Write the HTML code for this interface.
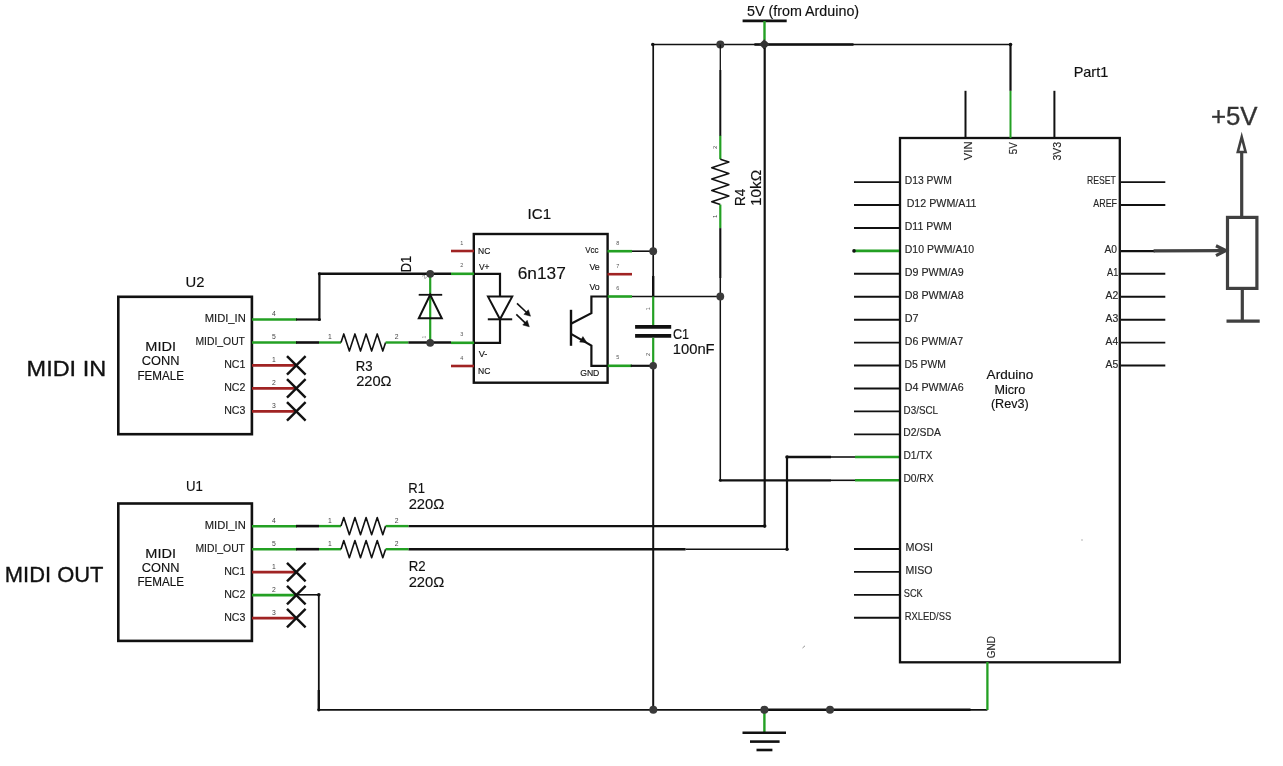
<!DOCTYPE html>
<html><head><meta charset="utf-8"><style>
html,body{margin:0;padding:0;background:#fff;}
body{width:1283px;height:766px;overflow:hidden;}
svg{display:block;will-change:transform;}
text{font-family:"Liberation Sans",sans-serif;}
</style></head><body>
<svg width="1283" height="766" viewBox="0 0 1283 766">
<rect width="1283" height="766" fill="#fff"/>
<rect x="118.3" y="296.8" width="133.6" height="137.39999999999998" fill="none" stroke="#111" stroke-width="2.6"/>
<text x="185.52" y="286.5" font-size="14" text-anchor="start" fill="#111" stroke="#111" stroke-width="0.15" textLength="18.90" lengthAdjust="spacingAndGlyphs">U2</text>
<text x="145.34" y="350.8" font-size="13" text-anchor="start" fill="#111" stroke="#111" stroke-width="0.15" textLength="30.74" lengthAdjust="spacingAndGlyphs">MIDI</text>
<text x="141.86" y="365.2" font-size="13" text-anchor="start" fill="#111" stroke="#111" stroke-width="0.15" textLength="37.72" lengthAdjust="spacingAndGlyphs">CONN</text>
<text x="137.47" y="379.6" font-size="13" text-anchor="start" fill="#111" stroke="#111" stroke-width="0.15" textLength="46.61" lengthAdjust="spacingAndGlyphs">FEMALE</text>
<line x1="252" y1="319.5" x2="297" y2="319.5" stroke="#23a023" stroke-width="2.6" stroke-linecap="butt"/>
<text x="204.7" y="322.1" font-size="10.8" text-anchor="start" fill="#1a1a1a" stroke="#1a1a1a" stroke-width="0.15" textLength="41.07" lengthAdjust="spacingAndGlyphs">MIDI_IN</text>
<text x="274" y="315.9" font-size="6.8" text-anchor="middle" fill="#444">4</text>
<line x1="252" y1="342.5" x2="297" y2="342.5" stroke="#23a023" stroke-width="2.6" stroke-linecap="butt"/>
<text x="195.42" y="345.1" font-size="10.8" text-anchor="start" fill="#1a1a1a" stroke="#1a1a1a" stroke-width="0.15" textLength="49.56" lengthAdjust="spacingAndGlyphs">MIDI_OUT</text>
<text x="274" y="338.9" font-size="6.8" text-anchor="middle" fill="#444">5</text>
<line x1="252" y1="365.4" x2="297" y2="365.4" stroke="#a02323" stroke-width="2.6" stroke-linecap="butt"/>
<text x="224.15" y="368.0" font-size="10.8" text-anchor="start" fill="#1a1a1a" stroke="#1a1a1a" stroke-width="0.15" textLength="21.18" lengthAdjust="spacingAndGlyphs">NC1</text>
<text x="274" y="361.79999999999995" font-size="6.8" text-anchor="middle" fill="#444">1</text>
<line x1="252" y1="388.4" x2="297" y2="388.4" stroke="#a02323" stroke-width="2.6" stroke-linecap="butt"/>
<text x="224.15" y="391.0" font-size="10.8" text-anchor="start" fill="#1a1a1a" stroke="#1a1a1a" stroke-width="0.15" textLength="21.18" lengthAdjust="spacingAndGlyphs">NC2</text>
<text x="274" y="384.79999999999995" font-size="6.8" text-anchor="middle" fill="#444">2</text>
<line x1="252" y1="411.4" x2="297" y2="411.4" stroke="#a02323" stroke-width="2.6" stroke-linecap="butt"/>
<text x="224.15" y="414.0" font-size="10.8" text-anchor="start" fill="#1a1a1a" stroke="#1a1a1a" stroke-width="0.15" textLength="21.18" lengthAdjust="spacingAndGlyphs">NC3</text>
<text x="274" y="407.79999999999995" font-size="6.8" text-anchor="middle" fill="#444">3</text>
<line x1="287.0" y1="356.09999999999997" x2="305.6" y2="374.7" stroke="#111" stroke-width="2.4" stroke-linecap="butt"/>
<line x1="287.0" y1="374.7" x2="305.6" y2="356.09999999999997" stroke="#111" stroke-width="2.4" stroke-linecap="butt"/>
<line x1="287.0" y1="379.09999999999997" x2="305.6" y2="397.7" stroke="#111" stroke-width="2.4" stroke-linecap="butt"/>
<line x1="287.0" y1="397.7" x2="305.6" y2="379.09999999999997" stroke="#111" stroke-width="2.4" stroke-linecap="butt"/>
<line x1="287.0" y1="402.09999999999997" x2="305.6" y2="420.7" stroke="#111" stroke-width="2.4" stroke-linecap="butt"/>
<line x1="287.0" y1="420.7" x2="305.6" y2="402.09999999999997" stroke="#111" stroke-width="2.4" stroke-linecap="butt"/>
<rect x="118.3" y="503.5" width="133.6" height="137.39999999999998" fill="none" stroke="#111" stroke-width="2.6"/>
<text x="185.94" y="491.2" font-size="14" text-anchor="start" fill="#111" stroke="#111" stroke-width="0.15" textLength="16.90" lengthAdjust="spacingAndGlyphs">U1</text>
<text x="145.34" y="557.5" font-size="13" text-anchor="start" fill="#111" stroke="#111" stroke-width="0.15" textLength="30.74" lengthAdjust="spacingAndGlyphs">MIDI</text>
<text x="141.86" y="571.9" font-size="13" text-anchor="start" fill="#111" stroke="#111" stroke-width="0.15" textLength="37.72" lengthAdjust="spacingAndGlyphs">CONN</text>
<text x="137.47" y="586.3" font-size="13" text-anchor="start" fill="#111" stroke="#111" stroke-width="0.15" textLength="46.61" lengthAdjust="spacingAndGlyphs">FEMALE</text>
<line x1="252" y1="526.2" x2="297" y2="526.2" stroke="#23a023" stroke-width="2.6" stroke-linecap="butt"/>
<text x="204.7" y="528.8000000000001" font-size="10.8" text-anchor="start" fill="#1a1a1a" stroke="#1a1a1a" stroke-width="0.15" textLength="41.07" lengthAdjust="spacingAndGlyphs">MIDI_IN</text>
<text x="274" y="522.6" font-size="6.8" text-anchor="middle" fill="#444">4</text>
<line x1="252" y1="549.2" x2="297" y2="549.2" stroke="#23a023" stroke-width="2.6" stroke-linecap="butt"/>
<text x="195.42" y="551.8000000000001" font-size="10.8" text-anchor="start" fill="#1a1a1a" stroke="#1a1a1a" stroke-width="0.15" textLength="49.56" lengthAdjust="spacingAndGlyphs">MIDI_OUT</text>
<text x="274" y="545.6" font-size="6.8" text-anchor="middle" fill="#444">5</text>
<line x1="252" y1="572.0999999999999" x2="297" y2="572.0999999999999" stroke="#a02323" stroke-width="2.6" stroke-linecap="butt"/>
<text x="224.15" y="574.6999999999999" font-size="10.8" text-anchor="start" fill="#1a1a1a" stroke="#1a1a1a" stroke-width="0.15" textLength="21.18" lengthAdjust="spacingAndGlyphs">NC1</text>
<text x="274" y="568.4999999999999" font-size="6.8" text-anchor="middle" fill="#444">1</text>
<line x1="252" y1="595.0999999999999" x2="297" y2="595.0999999999999" stroke="#23a023" stroke-width="2.6" stroke-linecap="butt"/>
<text x="224.15" y="597.6999999999999" font-size="10.8" text-anchor="start" fill="#1a1a1a" stroke="#1a1a1a" stroke-width="0.15" textLength="21.18" lengthAdjust="spacingAndGlyphs">NC2</text>
<text x="274" y="591.4999999999999" font-size="6.8" text-anchor="middle" fill="#444">2</text>
<line x1="252" y1="618.0999999999999" x2="297" y2="618.0999999999999" stroke="#a02323" stroke-width="2.6" stroke-linecap="butt"/>
<text x="224.15" y="620.6999999999999" font-size="10.8" text-anchor="start" fill="#1a1a1a" stroke="#1a1a1a" stroke-width="0.15" textLength="21.18" lengthAdjust="spacingAndGlyphs">NC3</text>
<text x="274" y="614.4999999999999" font-size="6.8" text-anchor="middle" fill="#444">3</text>
<line x1="287.0" y1="562.8" x2="305.6" y2="581.3999999999999" stroke="#111" stroke-width="2.4" stroke-linecap="butt"/>
<line x1="287.0" y1="581.3999999999999" x2="305.6" y2="562.8" stroke="#111" stroke-width="2.4" stroke-linecap="butt"/>
<line x1="287.0" y1="585.8" x2="305.6" y2="604.3999999999999" stroke="#111" stroke-width="2.4" stroke-linecap="butt"/>
<line x1="287.0" y1="604.3999999999999" x2="305.6" y2="585.8" stroke="#111" stroke-width="2.4" stroke-linecap="butt"/>
<line x1="287.0" y1="608.8" x2="305.6" y2="627.3999999999999" stroke="#111" stroke-width="2.4" stroke-linecap="butt"/>
<line x1="287.0" y1="627.3999999999999" x2="305.6" y2="608.8" stroke="#111" stroke-width="2.4" stroke-linecap="butt"/>
<text x="26.62" y="375.8" font-size="21.8" text-anchor="start" fill="#111" stroke="#111" stroke-width="0.35" textLength="79.52" lengthAdjust="spacingAndGlyphs">MIDI IN</text>
<text x="4.85" y="582.1" font-size="22" text-anchor="start" fill="#111" stroke="#111" stroke-width="0.35" textLength="98.58" lengthAdjust="spacingAndGlyphs">MIDI OUT</text>
<line x1="296" y1="319.5" x2="319.4" y2="319.5" stroke="#111" stroke-width="2.2" stroke-linecap="butt"/>
<line x1="319.4" y1="320.5" x2="319.4" y2="273.8" stroke="#111" stroke-width="2.2" stroke-linecap="butt"/>
<line x1="318.4" y1="273.8" x2="451" y2="273.8" stroke="#111" stroke-width="2.6" stroke-linecap="butt"/>
<circle cx="319.4" cy="319.5" r="1.6" fill="#111"/>
<circle cx="319.4" cy="273.8" r="1.6" fill="#111"/>
<line x1="296" y1="342.5" x2="319" y2="342.5" stroke="#111" stroke-width="2.6" stroke-linecap="butt"/>
<line x1="319" y1="342.5" x2="341" y2="342.5" stroke="#23a023" stroke-width="2.4" stroke-linecap="butt"/>
<polyline points="341,342.5 343.79,333.9 349.36,351.1 354.94,333.9 360.51,351.1 366.09,333.9 371.66,351.1 377.24,333.9 382.81,351.1 385.6,342.5" fill="none" stroke="#111" stroke-width="1.6" stroke-linejoin="round" stroke-linecap="butt"/>
<text x="330" y="338.9" font-size="6.8" text-anchor="middle" fill="#444">1</text>
<text x="396.6" y="338.9" font-size="6.8" text-anchor="middle" fill="#444">2</text>
<line x1="385.6" y1="342.5" x2="408.4" y2="342.5" stroke="#23a023" stroke-width="2.4" stroke-linecap="butt"/>
<line x1="408.4" y1="342.5" x2="451" y2="342.5" stroke="#111" stroke-width="2.6" stroke-linecap="butt"/>
<text x="355.85" y="370.6" font-size="14.2" text-anchor="start" fill="#111" stroke="#111" stroke-width="0.15" textLength="16.78" lengthAdjust="spacingAndGlyphs">R3</text>
<text x="356.17" y="386.2" font-size="14.2" text-anchor="start" fill="#111" stroke="#111" stroke-width="0.15" textLength="35.36" lengthAdjust="spacingAndGlyphs">220Ω</text>
<line x1="430.2" y1="273.8" x2="430.2" y2="343" stroke="#23a023" stroke-width="2.2" stroke-linecap="butt"/>
<line x1="418.7" y1="294.8" x2="442.2" y2="294.8" stroke="#111" stroke-width="1.8" stroke-linecap="butt"/>
<polygon points="430.2,294.8 418.8,318.3 441.8,318.3" fill="none" stroke="#111" stroke-width="2"/>
<circle cx="430.2" cy="273.8" r="3.9" fill="#3a3a3a"/>
<circle cx="430.2" cy="342.8" r="3.9" fill="#3a3a3a"/>
<text x="411.5" y="272.24" font-size="14" text-anchor="start" fill="#111" stroke="#111" stroke-width="0.15" textLength="16.56" lengthAdjust="spacingAndGlyphs" transform="rotate(-90 411.5 272.24)">D1</text>
<text x="426" y="278" font-size="6" text-anchor="middle" fill="#666" transform="rotate(-45 426 278)">2</text>
<text x="426" y="337" font-size="5" text-anchor="middle" fill="#999" transform="rotate(-90 426 337)">1</text>
<rect x="473.8" y="234" width="133.8" height="148.7" fill="none" stroke="#111" stroke-width="2.4"/>
<text x="527.54" y="219" font-size="13.8" text-anchor="start" fill="#111" stroke="#111" stroke-width="0.15" textLength="23.56" lengthAdjust="spacingAndGlyphs">IC1</text>
<text x="517.73" y="278.9" font-size="17.4" text-anchor="start" fill="#111" stroke="#111" stroke-width="0.15" textLength="48.14" lengthAdjust="spacingAndGlyphs">6n137</text>
<line x1="451" y1="251" x2="474" y2="251" stroke="#a02323" stroke-width="2.6" stroke-linecap="butt"/>
<text x="461.8" y="244.5" font-size="5.5" text-anchor="middle" fill="#555">1</text>
<line x1="451" y1="273.8" x2="474" y2="273.8" stroke="#23a023" stroke-width="2.6" stroke-linecap="butt"/>
<text x="461.8" y="267.3" font-size="5.5" text-anchor="middle" fill="#555">2</text>
<line x1="451" y1="342.8" x2="474" y2="342.8" stroke="#23a023" stroke-width="2.6" stroke-linecap="butt"/>
<text x="461.8" y="336.3" font-size="5.5" text-anchor="middle" fill="#555">3</text>
<line x1="451" y1="366" x2="474" y2="366" stroke="#a02323" stroke-width="2.6" stroke-linecap="butt"/>
<text x="461.8" y="359.5" font-size="5.5" text-anchor="middle" fill="#555">4</text>
<text x="478.12" y="253.7" font-size="9.8" text-anchor="start" fill="#111" stroke="#111" stroke-width="0.15" textLength="12.26" lengthAdjust="spacingAndGlyphs">NC</text>
<text x="478.92" y="270" font-size="9.8" text-anchor="start" fill="#111" stroke="#111" stroke-width="0.15" textLength="10.63" lengthAdjust="spacingAndGlyphs">V+</text>
<text x="478.71" y="356.6" font-size="9.8" text-anchor="start" fill="#111" stroke="#111" stroke-width="0.15" textLength="8.71" lengthAdjust="spacingAndGlyphs">V-</text>
<text x="478.12" y="373.8" font-size="9.8" text-anchor="start" fill="#111" stroke="#111" stroke-width="0.15" textLength="12.36" lengthAdjust="spacingAndGlyphs">NC</text>
<line x1="607.5" y1="251.2" x2="632" y2="251.2" stroke="#23a023" stroke-width="2.6" stroke-linecap="butt"/>
<text x="617.8" y="244.7" font-size="5.5" text-anchor="middle" fill="#555">8</text>
<line x1="607.5" y1="274.2" x2="632" y2="274.2" stroke="#a02323" stroke-width="2.6" stroke-linecap="butt"/>
<text x="617.8" y="267.7" font-size="5.5" text-anchor="middle" fill="#555">7</text>
<line x1="607.5" y1="296.5" x2="632" y2="296.5" stroke="#23a023" stroke-width="2.6" stroke-linecap="butt"/>
<text x="617.8" y="290.0" font-size="5.5" text-anchor="middle" fill="#555">6</text>
<line x1="607.5" y1="365.8" x2="632" y2="365.8" stroke="#23a023" stroke-width="2.6" stroke-linecap="butt"/>
<text x="617.8" y="359.3" font-size="5.5" text-anchor="middle" fill="#555">5</text>
<text x="585.17" y="252.7" font-size="9.8" text-anchor="start" fill="#111" stroke="#111" stroke-width="0.15" textLength="13.35" lengthAdjust="spacingAndGlyphs">Vcc</text>
<text x="589.41" y="269.6" font-size="9.8" text-anchor="start" fill="#111" stroke="#111" stroke-width="0.15" textLength="10.31" lengthAdjust="spacingAndGlyphs">Ve</text>
<text x="589.41" y="289.6" font-size="9.8" text-anchor="start" fill="#111" stroke="#111" stroke-width="0.15" textLength="10.22" lengthAdjust="spacingAndGlyphs">Vo</text>
<text x="580.17" y="375.8" font-size="9.8" text-anchor="start" fill="#111" stroke="#111" stroke-width="0.15" textLength="19.20" lengthAdjust="spacingAndGlyphs">GND</text>
<polyline points="474,273.8 500,273.8 500,296.6" fill="none" stroke="#111" stroke-width="2.2" stroke-linejoin="miter" stroke-linecap="butt"/>
<polygon points="488,296.6 512.2,296.6 500,319.3" fill="none" stroke="#111" stroke-width="2"/>
<line x1="487.8" y1="319.3" x2="512.2" y2="319.3" stroke="#111" stroke-width="2" stroke-linecap="butt"/>
<polyline points="500,319.3 500,342.8 474,342.8" fill="none" stroke="#111" stroke-width="2.2" stroke-linejoin="miter" stroke-linecap="butt"/>
<line x1="517" y1="303.3" x2="526.8850465442343" y2="312.7457111422684" stroke="#111" stroke-width="1.6" stroke-linecap="butt"/>
<polygon points="530.5,316.2 523.95,314.37 528.37,309.74" fill="#111" stroke="#111" stroke-width="0.5"/>
<line x1="516.3" y1="314.3" x2="525.6958346754907" y2="323.3344564187411" stroke="#111" stroke-width="1.6" stroke-linecap="butt"/>
<polygon points="529.3,326.8 522.76,324.95 527.19,320.33" fill="#111" stroke="#111" stroke-width="0.5"/>
<line x1="571" y1="309.8" x2="571" y2="345.8" stroke="#111" stroke-width="2.4" stroke-linecap="butt"/>
<polyline points="571,323.7 591.4,313.2 591.4,296.5 607.6,296.5" fill="none" stroke="#111" stroke-width="2.2" stroke-linejoin="miter" stroke-linecap="butt"/>
<polyline points="571,333.9 591.4,345.6 591.4,365.8 607.6,365.8" fill="none" stroke="#111" stroke-width="2.2" stroke-linejoin="miter" stroke-linecap="butt"/>
<polygon points="586.8,342.6 579.7,342.1 582.9,336.6" fill="#111" stroke="#111" stroke-width="0.5"/>
<line x1="632" y1="251.2" x2="653.2" y2="251.2" stroke="#111" stroke-width="1.6" stroke-linecap="butt"/>
<line x1="632" y1="296.5" x2="720.3" y2="296.5" stroke="#111" stroke-width="1.4" stroke-linecap="butt"/>
<line x1="630.7" y1="365.8" x2="653.2" y2="365.8" stroke="#111" stroke-width="2.2" stroke-linecap="butt"/>
<line x1="653.2" y1="44.5" x2="653.2" y2="276" stroke="#111" stroke-width="1.7" stroke-linecap="butt"/>
<line x1="653.2" y1="276" x2="653.2" y2="296.5" stroke="#111" stroke-width="2.4" stroke-linecap="butt"/>
<line x1="653.2" y1="296.5" x2="653.2" y2="325" stroke="#23a023" stroke-width="2.2" stroke-linecap="butt"/>
<line x1="635.1" y1="326.8" x2="671.2" y2="326.8" stroke="#111" stroke-width="3.7" stroke-linecap="butt"/>
<line x1="635.1" y1="335.9" x2="671.2" y2="335.9" stroke="#111" stroke-width="3.9" stroke-linecap="butt"/>
<line x1="653.2" y1="337.8" x2="653.2" y2="365.8" stroke="#23a023" stroke-width="2.2" stroke-linecap="butt"/>
<line x1="653.2" y1="365.8" x2="653.2" y2="709.8" stroke="#111" stroke-width="2" stroke-linecap="butt"/>
<circle cx="653.2" cy="251.2" r="3.9" fill="#3a3a3a"/>
<circle cx="653.2" cy="365.8" r="3.8" fill="#3a3a3a"/>
<text x="672.97" y="339.1" font-size="14.3" text-anchor="start" fill="#111" stroke="#111" stroke-width="0.15" textLength="16.14" lengthAdjust="spacingAndGlyphs">C1</text>
<text x="672.72" y="354.3" font-size="14.3" text-anchor="start" fill="#111" stroke="#111" stroke-width="0.15" textLength="41.95" lengthAdjust="spacingAndGlyphs">100nF</text>
<text x="649.8" y="308.6" font-size="5.5" text-anchor="middle" fill="#444" transform="rotate(-90 649.8 308.6)">1</text>
<text x="650.3" y="354.5" font-size="5.5" text-anchor="middle" fill="#444" transform="rotate(-90 650.3 354.5)">2</text>
<line x1="652.8" y1="44.5" x2="1010.5" y2="44.5" stroke="#111" stroke-width="1.6" stroke-linecap="butt"/>
<line x1="754.4" y1="44.5" x2="853.5" y2="44.5" stroke="#111" stroke-width="2.4" stroke-linecap="butt"/>
<circle cx="652.8" cy="44.5" r="1.8" fill="#111"/>
<circle cx="720.3" cy="44.5" r="4" fill="#3a3a3a"/>
<line x1="742.6" y1="20.9" x2="786.7" y2="20.9" stroke="#111" stroke-width="2.6" stroke-linecap="butt"/>
<line x1="764.5" y1="21" x2="764.5" y2="40" stroke="#23a023" stroke-width="2.4" stroke-linecap="butt"/>
<rect x="760.6" y="40.6" width="7.4" height="7.4" rx="0.8" fill="#333" transform="rotate(45 764.3 44.3)"/>
<text x="746.93" y="15.9" font-size="14.4" text-anchor="start" fill="#111" stroke="#111" stroke-width="0.15" textLength="112.22" lengthAdjust="spacingAndGlyphs">5V (from Arduino)</text>
<line x1="720.3" y1="44.5" x2="720.3" y2="70" stroke="#111" stroke-width="1.3" stroke-linecap="butt"/>
<line x1="720.3" y1="70" x2="720.3" y2="136" stroke="#111" stroke-width="2" stroke-linecap="butt"/>
<line x1="720.3" y1="135.7" x2="720.3" y2="159.2" stroke="#23a023" stroke-width="2.2" stroke-linecap="butt"/>
<polyline points="720.3,159.2 728.9,162.04 711.6999999999999,167.71 728.9,173.39 711.6999999999999,179.06 728.9,184.74 711.6999999999999,190.41 728.9,196.09 711.6999999999999,201.76 720.3,204.6" fill="none" stroke="#111" stroke-width="1.6" stroke-linejoin="round" stroke-linecap="butt"/>
<line x1="720.3" y1="204.6" x2="720.3" y2="228.1" stroke="#23a023" stroke-width="2.2" stroke-linecap="butt"/>
<line x1="720.3" y1="228.1" x2="720.3" y2="278" stroke="#111" stroke-width="2.1" stroke-linecap="butt"/>
<line x1="720.3" y1="278" x2="720.3" y2="480.3" stroke="#111" stroke-width="1.5" stroke-linecap="butt"/>
<circle cx="720.3" cy="296.5" r="3.9" fill="#3a3a3a"/>
<text x="745.5" y="205.88" font-size="14.2" text-anchor="start" fill="#111" stroke="#111" stroke-width="0.15" textLength="17.26" lengthAdjust="spacingAndGlyphs" transform="rotate(-90 745.5 205.88)">R4</text>
<text x="761" y="206.03" font-size="14.2" text-anchor="start" fill="#111" stroke="#111" stroke-width="0.15" textLength="36.24" lengthAdjust="spacingAndGlyphs" transform="rotate(-90 761 206.03)">10kΩ</text>
<text x="716.8" y="147.4" font-size="5.8" text-anchor="middle" fill="#444" transform="rotate(-90 716.8 147.4)">2</text>
<text x="716.8" y="216.3" font-size="5.8" text-anchor="middle" fill="#444" transform="rotate(-90 716.8 216.3)">1</text>
<line x1="764.7" y1="48" x2="764.7" y2="526.1" stroke="#111" stroke-width="2.2" stroke-linecap="butt"/>
<line x1="408.4" y1="526.1" x2="764.7" y2="526.1" stroke="#111" stroke-width="2.2" stroke-linecap="butt"/>
<circle cx="764.7" cy="526.1" r="1.8" fill="#111"/>
<line x1="720.3" y1="480.3" x2="831" y2="480.3" stroke="#111" stroke-width="2.3" stroke-linecap="butt"/>
<line x1="831" y1="480.3" x2="855" y2="480.3" stroke="#111" stroke-width="1.6" stroke-linecap="butt"/>
<line x1="855" y1="480.3" x2="899" y2="480.3" stroke="#23a023" stroke-width="2.6" stroke-linecap="butt"/>
<circle cx="720.3" cy="480.3" r="1.5" fill="#111"/>
<line x1="408.4" y1="549.2" x2="685.6" y2="549.2" stroke="#111" stroke-width="2.4" stroke-linecap="butt"/>
<line x1="685.6" y1="549.2" x2="787" y2="549.2" stroke="#111" stroke-width="1.6" stroke-linecap="butt"/>
<line x1="787" y1="549.2" x2="787" y2="457" stroke="#111" stroke-width="2.2" stroke-linecap="butt"/>
<line x1="787" y1="457" x2="831" y2="457" stroke="#111" stroke-width="2.4" stroke-linecap="butt"/>
<line x1="831" y1="457" x2="855" y2="457" stroke="#111" stroke-width="1.6" stroke-linecap="butt"/>
<line x1="855" y1="457" x2="899" y2="457" stroke="#23a023" stroke-width="2.6" stroke-linecap="butt"/>
<circle cx="787" cy="457" r="1.8" fill="#111"/>
<circle cx="787" cy="549.2" r="1.8" fill="#111"/>
<line x1="296" y1="526.1" x2="319" y2="526.1" stroke="#111" stroke-width="2.6" stroke-linecap="butt"/>
<line x1="319" y1="526.1" x2="341" y2="526.1" stroke="#23a023" stroke-width="2.4" stroke-linecap="butt"/>
<polyline points="341,526.1 343.79,517.5 349.36,534.7 354.94,517.5 360.51,534.7 366.09,517.5 371.66,534.7 377.24,517.5 382.81,534.7 385.6,526.1" fill="none" stroke="#111" stroke-width="1.6" stroke-linejoin="round" stroke-linecap="butt"/>
<line x1="385.6" y1="526.1" x2="408.4" y2="526.1" stroke="#23a023" stroke-width="2.4" stroke-linecap="butt"/>
<text x="330" y="522.5" font-size="6.8" text-anchor="middle" fill="#444">1</text>
<text x="396.6" y="522.5" font-size="6.8" text-anchor="middle" fill="#444">2</text>
<line x1="296" y1="549.2" x2="319" y2="549.2" stroke="#111" stroke-width="2.6" stroke-linecap="butt"/>
<line x1="319" y1="549.2" x2="341" y2="549.2" stroke="#23a023" stroke-width="2.4" stroke-linecap="butt"/>
<polyline points="341,549.2 343.79,540.6 349.36,557.8000000000001 354.94,540.6 360.51,557.8000000000001 366.09,540.6 371.66,557.8000000000001 377.24,540.6 382.81,557.8000000000001 385.6,549.2" fill="none" stroke="#111" stroke-width="1.6" stroke-linejoin="round" stroke-linecap="butt"/>
<line x1="385.6" y1="549.2" x2="408.4" y2="549.2" stroke="#23a023" stroke-width="2.4" stroke-linecap="butt"/>
<text x="330" y="545.6" font-size="6.8" text-anchor="middle" fill="#444">1</text>
<text x="396.6" y="545.6" font-size="6.8" text-anchor="middle" fill="#444">2</text>
<text x="408.36" y="493" font-size="14.2" text-anchor="start" fill="#111" stroke="#111" stroke-width="0.15" textLength="16.67" lengthAdjust="spacingAndGlyphs">R1</text>
<text x="408.66" y="508.7" font-size="14.2" text-anchor="start" fill="#111" stroke="#111" stroke-width="0.15" textLength="35.67" lengthAdjust="spacingAndGlyphs">220Ω</text>
<text x="408.74" y="571.3" font-size="14.2" text-anchor="start" fill="#111" stroke="#111" stroke-width="0.15" textLength="16.90" lengthAdjust="spacingAndGlyphs">R2</text>
<text x="408.66" y="587" font-size="14.2" text-anchor="start" fill="#111" stroke="#111" stroke-width="0.15" textLength="35.67" lengthAdjust="spacingAndGlyphs">220Ω</text>
<line x1="296.7" y1="594.8" x2="318.8" y2="594.8" stroke="#111" stroke-width="1.6" stroke-linecap="butt"/>
<line x1="318.8" y1="594.8" x2="318.8" y2="709.8" stroke="#111" stroke-width="1.8" stroke-linecap="butt"/>
<circle cx="318.8" cy="594.8" r="1.8" fill="#111"/>
<circle cx="318.8" cy="709.8" r="1.6" fill="#111"/>
<line x1="318.8" y1="690" x2="318.8" y2="709.8" stroke="#111" stroke-width="2.3" stroke-linecap="butt"/>
<line x1="318.8" y1="709.8" x2="987.4" y2="709.8" stroke="#111" stroke-width="1.8" stroke-linecap="butt"/>
<line x1="764.4" y1="709.8" x2="970.5" y2="709.8" stroke="#111" stroke-width="2.4" stroke-linecap="butt"/>
<line x1="764.4" y1="710" x2="764.4" y2="732.8" stroke="#23a023" stroke-width="2.4" stroke-linecap="butt"/>
<line x1="742.5" y1="732.8" x2="786" y2="732.8" stroke="#111" stroke-width="2.6" stroke-linecap="butt"/>
<line x1="750" y1="741.6" x2="779.6" y2="741.6" stroke="#111" stroke-width="2.6" stroke-linecap="butt"/>
<line x1="756.5" y1="750" x2="772.4" y2="750" stroke="#111" stroke-width="2.6" stroke-linecap="butt"/>
<circle cx="653.3" cy="709.8" r="4" fill="#3a3a3a"/>
<circle cx="764.4" cy="709.8" r="4" fill="#3a3a3a"/>
<circle cx="830" cy="709.8" r="4" fill="#3a3a3a"/>
<rect x="900" y="138" width="219.8" height="524.3" fill="none" stroke="#111" stroke-width="2.3"/>
<text x="1073.64" y="77.3" font-size="14.6" text-anchor="start" fill="#111" stroke="#111" stroke-width="0.15" textLength="34.69" lengthAdjust="spacingAndGlyphs">Part1</text>
<text x="986.6" y="379.4" font-size="12.6" text-anchor="start" fill="#111" stroke="#111" stroke-width="0.15" textLength="46.80" lengthAdjust="spacingAndGlyphs">Arduino</text>
<text x="1009.8" y="394" font-size="12.6" text-anchor="middle" fill="#111" stroke="#111" stroke-width="0.15">Micro</text>
<text x="1009.8" y="408.2" font-size="12.6" text-anchor="middle" fill="#111" stroke="#111" stroke-width="0.15">(Rev3)</text>
<line x1="854" y1="182.1" x2="899" y2="182.1" stroke="#111" stroke-width="1.9" stroke-linecap="butt"/>
<text x="904.77" y="184.2" font-size="10.5" text-anchor="start" fill="#262626" stroke="#262626" stroke-width="0.15" textLength="47.12" lengthAdjust="spacingAndGlyphs">D13 PWM</text>
<line x1="854" y1="205.03" x2="899" y2="205.03" stroke="#111" stroke-width="1.9" stroke-linecap="butt"/>
<text x="906.65" y="207.13" font-size="10.5" text-anchor="start" fill="#262626" stroke="#262626" stroke-width="0.15" textLength="69.88" lengthAdjust="spacingAndGlyphs">D12 PWM/A11</text>
<line x1="854" y1="227.96" x2="899" y2="227.96" stroke="#111" stroke-width="1.9" stroke-linecap="butt"/>
<text x="904.76" y="230.06" font-size="10.5" text-anchor="start" fill="#262626" stroke="#262626" stroke-width="0.15" textLength="47.10" lengthAdjust="spacingAndGlyphs">D11 PWM</text>
<line x1="854" y1="250.89" x2="899" y2="250.89" stroke="#23a023" stroke-width="2.6" stroke-linecap="butt"/>
<circle cx="854" cy="250.89" r="1.8" fill="#111"/>
<text x="904.76" y="252.98999999999998" font-size="10.5" text-anchor="start" fill="#262626" stroke="#262626" stroke-width="0.15" textLength="69.34" lengthAdjust="spacingAndGlyphs">D10 PWM/A10</text>
<line x1="854" y1="273.82" x2="899" y2="273.82" stroke="#111" stroke-width="1.9" stroke-linecap="butt"/>
<text x="904.74" y="275.92" font-size="10.5" text-anchor="start" fill="#262626" stroke="#262626" stroke-width="0.15" textLength="58.90" lengthAdjust="spacingAndGlyphs">D9 PWM/A9</text>
<line x1="854" y1="296.75" x2="899" y2="296.75" stroke="#111" stroke-width="1.9" stroke-linecap="butt"/>
<text x="904.74" y="298.85" font-size="10.5" text-anchor="start" fill="#262626" stroke="#262626" stroke-width="0.15" textLength="58.90" lengthAdjust="spacingAndGlyphs">D8 PWM/A8</text>
<line x1="854" y1="319.68" x2="899" y2="319.68" stroke="#111" stroke-width="1.9" stroke-linecap="butt"/>
<text x="904.73" y="321.78000000000003" font-size="10.5" text-anchor="start" fill="#262626" stroke="#262626" stroke-width="0.15" textLength="13.89" lengthAdjust="spacingAndGlyphs">D7</text>
<line x1="854" y1="342.61" x2="899" y2="342.61" stroke="#111" stroke-width="1.9" stroke-linecap="butt"/>
<text x="904.75" y="344.71000000000004" font-size="10.5" text-anchor="start" fill="#262626" stroke="#262626" stroke-width="0.15" textLength="58.29" lengthAdjust="spacingAndGlyphs">D6 PWM/A7</text>
<line x1="854" y1="365.54" x2="899" y2="365.54" stroke="#111" stroke-width="1.9" stroke-linecap="butt"/>
<text x="904.42" y="367.64000000000004" font-size="10.5" text-anchor="start" fill="#262626" stroke="#262626" stroke-width="0.15" textLength="41.41" lengthAdjust="spacingAndGlyphs">D5 PWM</text>
<line x1="854" y1="388.47" x2="899" y2="388.47" stroke="#111" stroke-width="1.9" stroke-linecap="butt"/>
<text x="904.74" y="390.57000000000005" font-size="10.5" text-anchor="start" fill="#262626" stroke="#262626" stroke-width="0.15" textLength="58.90" lengthAdjust="spacingAndGlyphs">D4 PWM/A6</text>
<line x1="854" y1="411.4" x2="899" y2="411.4" stroke="#111" stroke-width="1.9" stroke-linecap="butt"/>
<text x="903.61" y="413.5" font-size="10.5" text-anchor="start" fill="#262626" stroke="#262626" stroke-width="0.15" textLength="34.45" lengthAdjust="spacingAndGlyphs">D3/SCL</text>
<line x1="854" y1="434.33" x2="899" y2="434.33" stroke="#111" stroke-width="1.9" stroke-linecap="butt"/>
<text x="903.37" y="436.43" font-size="10.5" text-anchor="start" fill="#262626" stroke="#262626" stroke-width="0.15" textLength="37.45" lengthAdjust="spacingAndGlyphs">D2/SDA</text>
<text x="903.38" y="459.36" font-size="10.5" text-anchor="start" fill="#262626" stroke="#262626" stroke-width="0.15" textLength="28.96" lengthAdjust="spacingAndGlyphs">D1/TX</text>
<text x="903.38" y="482.29" font-size="10.5" text-anchor="start" fill="#262626" stroke="#262626" stroke-width="0.15" textLength="30.28" lengthAdjust="spacingAndGlyphs">D0/RX</text>
<line x1="854" y1="548.98" x2="899" y2="548.98" stroke="#111" stroke-width="1.9" stroke-linecap="butt"/>
<text x="905.54" y="551.08" font-size="10.5" text-anchor="start" fill="#262626" stroke="#262626" stroke-width="0.15" textLength="27.48" lengthAdjust="spacingAndGlyphs">MOSI</text>
<line x1="854" y1="571.91" x2="899" y2="571.91" stroke="#111" stroke-width="1.9" stroke-linecap="butt"/>
<text x="905.55" y="574.01" font-size="10.5" text-anchor="start" fill="#262626" stroke="#262626" stroke-width="0.15" textLength="27.03" lengthAdjust="spacingAndGlyphs">MISO</text>
<line x1="854" y1="594.84" x2="899" y2="594.84" stroke="#111" stroke-width="1.9" stroke-linecap="butt"/>
<text x="903.74" y="596.94" font-size="10.5" text-anchor="start" fill="#262626" stroke="#262626" stroke-width="0.15" textLength="19.01" lengthAdjust="spacingAndGlyphs">SCK</text>
<line x1="854" y1="617.77" x2="899" y2="617.77" stroke="#111" stroke-width="1.9" stroke-linecap="butt"/>
<text x="904.65" y="619.87" font-size="10.5" text-anchor="start" fill="#262626" stroke="#262626" stroke-width="0.15" textLength="46.59" lengthAdjust="spacingAndGlyphs">RXLED/SS</text>
<line x1="1121" y1="182.1" x2="1165.3" y2="182.1" stroke="#111" stroke-width="1.9" stroke-linecap="butt"/>
<text x="1086.91" y="184.2" font-size="10.5" text-anchor="start" fill="#262626" stroke="#262626" stroke-width="0.15" textLength="28.80" lengthAdjust="spacingAndGlyphs">RESET</text>
<line x1="1121" y1="205.03" x2="1165.3" y2="205.03" stroke="#111" stroke-width="1.9" stroke-linecap="butt"/>
<text x="1093.3" y="207.13" font-size="10.5" text-anchor="start" fill="#262626" stroke="#262626" stroke-width="0.15" textLength="23.73" lengthAdjust="spacingAndGlyphs">AREF</text>
<line x1="1121" y1="250.89" x2="1165.3" y2="250.89" stroke="#111" stroke-width="1.9" stroke-linecap="butt"/>
<text x="1104.4" y="252.98999999999998" font-size="10.5" text-anchor="start" fill="#262626" stroke="#262626" stroke-width="0.15" textLength="12.54" lengthAdjust="spacingAndGlyphs">A0</text>
<line x1="1121" y1="273.82" x2="1165.3" y2="273.82" stroke="#111" stroke-width="1.9" stroke-linecap="butt"/>
<text x="1107.1" y="275.92" font-size="10.5" text-anchor="start" fill="#262626" stroke="#262626" stroke-width="0.15" textLength="11.19" lengthAdjust="spacingAndGlyphs">A1</text>
<line x1="1121" y1="296.75" x2="1165.3" y2="296.75" stroke="#111" stroke-width="1.9" stroke-linecap="butt"/>
<text x="1105.6" y="298.85" font-size="10.5" text-anchor="start" fill="#262626" stroke="#262626" stroke-width="0.15" textLength="12.75" lengthAdjust="spacingAndGlyphs">A2</text>
<line x1="1121" y1="319.68" x2="1165.3" y2="319.68" stroke="#111" stroke-width="1.9" stroke-linecap="butt"/>
<text x="1105.6" y="321.78000000000003" font-size="10.5" text-anchor="start" fill="#262626" stroke="#262626" stroke-width="0.15" textLength="12.75" lengthAdjust="spacingAndGlyphs">A3</text>
<line x1="1121" y1="342.61" x2="1165.3" y2="342.61" stroke="#111" stroke-width="1.9" stroke-linecap="butt"/>
<text x="1105.6" y="344.71000000000004" font-size="10.5" text-anchor="start" fill="#262626" stroke="#262626" stroke-width="0.15" textLength="12.54" lengthAdjust="spacingAndGlyphs">A4</text>
<line x1="1121" y1="365.54" x2="1165.3" y2="365.54" stroke="#111" stroke-width="1.9" stroke-linecap="butt"/>
<text x="1105.6" y="367.64000000000004" font-size="10.5" text-anchor="start" fill="#262626" stroke="#262626" stroke-width="0.15" textLength="12.64" lengthAdjust="spacingAndGlyphs">A5</text>
<line x1="965.5" y1="90.8" x2="965.5" y2="138" stroke="#111" stroke-width="2" stroke-linecap="butt"/>
<text x="972.5" y="160.21" font-size="10.2" text-anchor="start" fill="#262626" stroke="#262626" stroke-width="0.15" textLength="18.79" lengthAdjust="spacingAndGlyphs" transform="rotate(-90 972.5 160.21)">VIN</text>
<line x1="1010.5" y1="90.8" x2="1010.5" y2="138" stroke="#23a023" stroke-width="2" stroke-linecap="butt"/>
<text x="1017.5" y="154.29" font-size="10.2" text-anchor="start" fill="#262626" stroke="#262626" stroke-width="0.15" textLength="11.92" lengthAdjust="spacingAndGlyphs" transform="rotate(-90 1017.5 154.29)">5V</text>
<line x1="1054.4" y1="90.8" x2="1054.4" y2="138" stroke="#111" stroke-width="2" stroke-linecap="butt"/>
<text x="1061.4" y="160.52" font-size="10.2" text-anchor="start" fill="#262626" stroke="#262626" stroke-width="0.15" textLength="18.63" lengthAdjust="spacingAndGlyphs" transform="rotate(-90 1061.4 160.52)">3V3</text>
<line x1="1010.5" y1="44.5" x2="1010.5" y2="90.8" stroke="#111" stroke-width="2.2" stroke-linecap="butt"/>
<circle cx="1010.5" cy="44.5" r="1.8" fill="#111"/>
<line x1="987.4" y1="662" x2="987.4" y2="710" stroke="#23a023" stroke-width="2.3" stroke-linecap="butt"/>
<text x="995" y="658.2" font-size="11" text-anchor="start" fill="#262626" stroke="#262626" stroke-width="0.15" textLength="22.12" lengthAdjust="spacingAndGlyphs" transform="rotate(-90 995 658.2)">GND</text>
<text x="1210.91" y="124.9" font-size="26.5" text-anchor="start" fill="#333" stroke="#333" stroke-width="0.35" textLength="46.68" lengthAdjust="spacingAndGlyphs">+5V</text>
<line x1="1241.7" y1="152" x2="1241.7" y2="217.4" stroke="#404040" stroke-width="3.2" stroke-linecap="butt"/>
<polygon points="1241.7,137 1237.8,152 1245.6,152" fill="#fff" stroke="#404040" stroke-width="2.6"/>
<rect x="1227.5" y="217.4" width="29.4" height="71" fill="none" stroke="#404040" stroke-width="3.2"/>
<line x1="1242.3" y1="288.4" x2="1242.3" y2="321.2" stroke="#404040" stroke-width="3.2" stroke-linecap="butt"/>
<line x1="1226.5" y1="321.2" x2="1259.7" y2="321.2" stroke="#404040" stroke-width="3.2" stroke-linecap="butt"/>
<line x1="1121" y1="251.1" x2="1155" y2="251.1" stroke="#111" stroke-width="2.2" stroke-linecap="butt"/>
<line x1="1153.6" y1="250.9" x2="1224" y2="250.6" stroke="#404040" stroke-width="3.2" stroke-linecap="butt"/>
<polyline points="1216,245.8 1225.8,250.5 1216,255.6" fill="none" stroke="#404040" stroke-width="3.2" stroke-linejoin="miter" stroke-linecap="butt"/>
<line x1="802.5" y1="648" x2="805" y2="645.8" stroke="#777" stroke-width="0.8" stroke-linecap="butt"/>
<circle cx="1082" cy="540" r="0.7" fill="#999"/>
</svg>
</body></html>
